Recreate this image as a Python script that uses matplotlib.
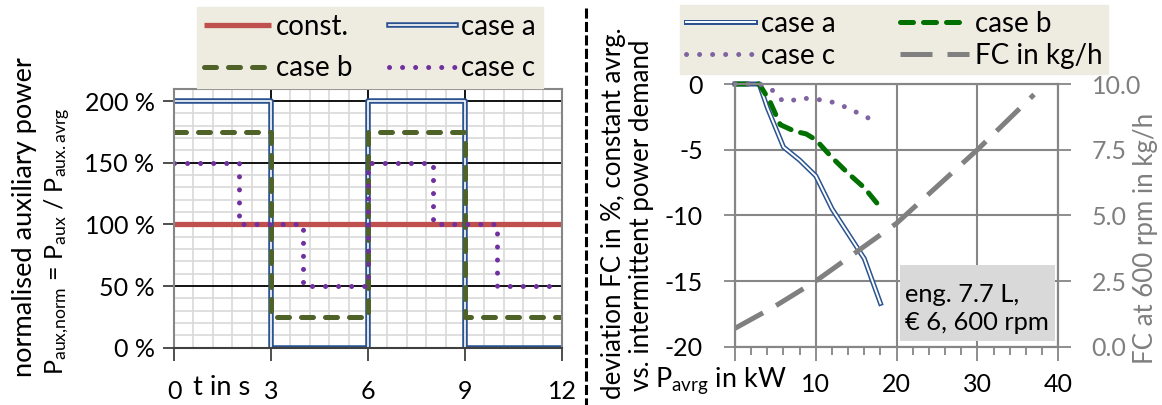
import matplotlib
matplotlib.use('Agg')
import matplotlib.pyplot as plt
import matplotlib.patheffects as pe
from matplotlib.lines import Line2D
from matplotlib.patches import Rectangle
from matplotlib.ticker import MultipleLocator, FixedLocator, FuncFormatter

W, H = 1162, 405
plt.rcParams['font.family'] = ['Lato', 'DejaVu Sans']
plt.rcParams['mathtext.fontset'] = 'custom'
plt.rcParams['mathtext.rm'] = 'Lato'
plt.rcParams['mathtext.it'] = 'Lato:italic'
FS = 18
LFS = 20

# ---------------- data: left chart (normalised auxiliary power) ----------------
t_const = [0, 12]
const = [100, 100]
t_ab = [0, 3, 6, 9, 12]
case_a_left = [200, 0, 200, 0, 0]
case_b_left = [175, 25, 175, 25, 25]
t_c = [0, 2, 4, 6, 8, 10, 11.8]
case_c_left = [150, 100, 50, 150, 100, 50, 50]
left_xticks = [0, 3, 6, 9, 12]
left_yticks = [0, 50, 100, 150, 200]

# ---------------- data: right chart (deviation FC) ----------------
p_a = [0, 1.5, 3, 4, 6, 8, 10, 12, 14, 16, 18]
dev_a = [0, 0, 0, -1.8, -4.8, -5.8, -7.0, -9.5, -11.4, -13.3, -16.7]
p_b = [0, 1.5, 3, 4.3, 5.6, 7.4, 8.8, 10, 12, 14, 16, 18]
dev_b = [0, 0, 0, -1.3, -3.1, -3.6, -3.8, -4.25, -5.6, -6.8, -7.9, -9.4]
p_c = [0, 1.5, 3, 4.5, 5.5, 6.6, 8, 9.6, 11.1, 12.6, 14, 15.3, 16.8]
dev_c = [0, 0, 0, -0.38, -1.14, -1.37, -1.06, -1.14, -1.24, -1.47, -1.85, -2.23, -2.68]
p_fc = [0, 5, 10, 20, 30, 37]
fc = [0.7, 1.55, 2.5, 4.7, 7.5, 9.6]
right_xticks = [0, 10, 20, 30, 40]
right_yticks = [-20, -15, -10, -5, 0]
fc_ticks = [0, 2.5, 5, 7.5, 10]

RED = '#C0504D'
BLUE = '#2A5390'
OLIVE = '#4F6228'
PURPLE = '#7030A0'
GREEN = '#007000'
LPURPLE = '#8064A2'
GRAY = '#808080'
SPINE = '#868686'


def fx(x):
    return x / W


def fy(y):
    return 1 - y / H


fig = plt.figure(figsize=(W / 100, H / 100), dpi=100)
renderer = fig.canvas.get_renderer()


def fit(t, target, vertical=False):
    bb = t.get_window_extent(renderer)
    length = bb.height if vertical else bb.width
    t.set_fontsize(t.get_fontsize() * target / length)
    return t


# ---------------- left axes ----------------
axL = fig.add_axes([fx(174), fy(347.7), (562 - 174) / W, (347.7 - 88.7) / H])
axL.set_xlim(0, 12)
axL.set_ylim(0, 210)
axL.xaxis.set_major_locator(FixedLocator(left_xticks))
axL.xaxis.set_minor_locator(MultipleLocator(0.6))
axL.yaxis.set_major_locator(FixedLocator(left_yticks))
axL.yaxis.set_minor_locator(MultipleLocator(10))
axL.set_axisbelow(True)
axL.grid(which='minor', color='#D9D9D9', lw=1.2)
axL.grid(which='major', color='black', lw=1.3)
for s in axL.spines.values():
    s.set_color(SPINE)
    s.set_linewidth(1.5)
axL.spines['bottom'].set_color('#404040')
axL.tick_params(which='minor', length=0)
axL.tick_params(axis='y', which='major', length=8, width=1.3, color='#404040',
                labelsize=FS, pad=6)
axL.tick_params(axis='x', which='major', length=9, width=1.3, color='#404040',
                labelsize=FS, pad=14)
axL.yaxis.set_major_formatter(FuncFormatter(lambda v, p: f'{int(v)} %'))
axL.xaxis.set_major_formatter(FuncFormatter(lambda v, p: f'{int(v)}'))

lc, = axL.plot(t_const, const, color=RED, lw=3.8, solid_capstyle='butt', label='const.')
la, = axL.plot(t_ab, case_a_left, drawstyle='steps-post', color='white', lw=1.2,
               label='case a',
               path_effects=[pe.Stroke(linewidth=4.0, foreground=BLUE), pe.Normal()])
lb, = axL.plot(t_ab, case_b_left, drawstyle='steps-post', color=OLIVE, lw=3.6,
               dash_capstyle='round', linestyle=(0, (2.4, 2.4)), label='case b')
lcc, = axL.plot(t_c, case_c_left, drawstyle='steps-post', color=PURPLE, lw=3.6,
                dash_capstyle='round', linestyle=(0, (0.01, 2.6)), label='case c')

fig.legend(handles=[lc, lb, la, lcc], labels=['const.', 'case b', 'case a', 'case c'],
           ncol=2, loc='upper left', mode='expand',
           bbox_to_anchor=(fx(197), fy(85), (543 - 197) / W, (85 - 7) / H),
           bbox_transform=fig.transFigure, borderaxespad=0, frameon=True,
           fancybox=False, facecolor='#EEECE1', edgecolor='#EEECE1', framealpha=1,
           fontsize=LFS, handlelength=2.4, handletextpad=0.2,
           labelspacing=0.55, borderpad=0.25)

fit(fig.text(fx(25), fy(377), 'normalised auxiliary power', rotation=90,
             ha='center', va='bottom', fontsize=FS), 320, True)
fit(fig.text(fx(58), fy(375),
             r'P$_{\mathregular{aux{,}norm}}$ = P$_{\mathregular{aux}}$ / P$_{\mathregular{aux.avrg}}$',
             rotation=90, ha='center', va='bottom', fontsize=FS), 268, True)
fit(fig.text(fx(193), fy(395), 't in s', ha='left', va='baseline', fontsize=FS), 57)

# ---------------- separator ----------------
fig.add_artist(Line2D([fx(585.5), fx(585.5)], [fy(8), fy(405)], color='black',
                      lw=2.2, linestyle=(0, (3.3, 1.1)), transform=fig.transFigure))

# ---------------- right axes ----------------
axR = fig.add_axes([fx(735), fy(346.7), (1058.3 - 735) / W, (346.7 - 84) / H])
axR.set_xlim(0, 40)
axR.set_ylim(-20, 0)
axR.xaxis.set_major_locator(FixedLocator(right_xticks))
axR.xaxis.set_minor_locator(MultipleLocator(2))
axR.yaxis.set_major_locator(FixedLocator(right_yticks))
axR.set_axisbelow(True)
axR.grid(which='major', color=SPINE, lw=1.5)
for s in axR.spines.values():
    s.set_color(SPINE)
    s.set_linewidth(1.5)
axR.tick_params(axis='x', which='major', length=10, width=1.3, color=SPINE,
                labelsize=FS, pad=9)
axR.tick_params(axis='x', which='minor', length=6, width=1.3, color=SPINE)
axR.tick_params(axis='y', which='major', length=8, width=1.3, color=SPINE,
                labelsize=FS, pad=15)
axR.xaxis.set_major_formatter(FuncFormatter(lambda v, p: '' if v == 0 else f'{int(v)}'))
axR.yaxis.set_major_formatter(FuncFormatter(lambda v, p: f'{int(v)}'))

ra, = axR.plot(p_a, dev_a, color='white', lw=1.4, clip_on=False, label='case a',
               path_effects=[pe.Stroke(linewidth=3.6, foreground=BLUE), pe.Normal()])
rb, = axR.plot(p_b, dev_b, color=GREEN, lw=3.6, dash_capstyle='round',
               linestyle=(0, (2.6, 2.0)), clip_on=False, label='case b')
rc, = axR.plot(p_c, dev_c, color=LPURPLE, lw=3.6, dash_capstyle='round',
               linestyle=(0, (0.01, 2.6)), clip_on=False, label='case c')

ax2 = axR.twinx()
ax2.set_ylim(0, 10)
ax2.yaxis.set_major_locator(FixedLocator(fc_ticks))
ax2.yaxis.set_major_formatter(FuncFormatter(lambda v, p: f'{v:.1f}'))
ax2.tick_params(axis='y', length=9, width=1.3, color=SPINE, labelsize=FS,
                labelcolor='#7F7F7F', pad=15)
for s in ax2.spines.values():
    s.set_color(SPINE)
    s.set_linewidth(1.5)
rf, = ax2.plot(p_fc, fc, color=GRAY, lw=3.6, linestyle=(0, (6.4, 3.0)),
               dash_capstyle='butt', label='FC in kg/h')

fig.legend(handles=[ra, rc, rb, rf], labels=['case a', 'case c', 'case b', 'FC in kg/h'],
           ncol=2, loc='upper left', mode='expand',
           bbox_to_anchor=(fx(680), fy(70), (1108 - 680) / W, (70 - 5) / H),
           bbox_transform=fig.transFigure, borderaxespad=0, frameon=True,
           fancybox=False, facecolor='#EEECE1', edgecolor='#EEECE1', framealpha=1,
           fontsize=LFS, handlelength=2.5, handletextpad=0.2,
           labelspacing=0.22, borderpad=0.2)

fit(fig.text(fx(613), fy(213), 'deviation FC in %, constant avrg.', rotation=90,
             ha='center', va='center', fontsize=FS), 370, True)
fit(fig.text(fx(642), fy(215), 'vs. intermittent power demand', rotation=90,
             ha='center', va='center', fontsize=FS), 350, True)
fit(fig.text(fx(787), fy(387), r'P$_{\mathregular{avrg}}$ in kW', ha='right',
             va='baseline', fontsize=FS), 132)
fit(fig.text(fx(1146), fy(238), 'FC at 600 rpm in kg/h', rotation=90, ha='center',
             va='center', fontsize=FS, color='#7F7F7F'), 250, True)

# info box
fig.patches.append(Rectangle((fx(900), fy(341)), (1055 - 900) / W, (341 - 265) / H,
                             transform=fig.transFigure, facecolor='#D9D9D9',
                             edgecolor='none', zorder=5))
t1 = fig.text(fx(905), fy(301.7), 'eng. 7.7 L,', ha='left', va='baseline',
              fontsize=FS, zorder=6)
t2 = fit(fig.text(fx(905), fy(330), '€ 6, 600 rpm', ha='left', va='baseline',
                  fontsize=FS, zorder=6), 144)
t1.set_fontsize(t2.get_fontsize())

fig.savefig('out.png', dpi=100)
